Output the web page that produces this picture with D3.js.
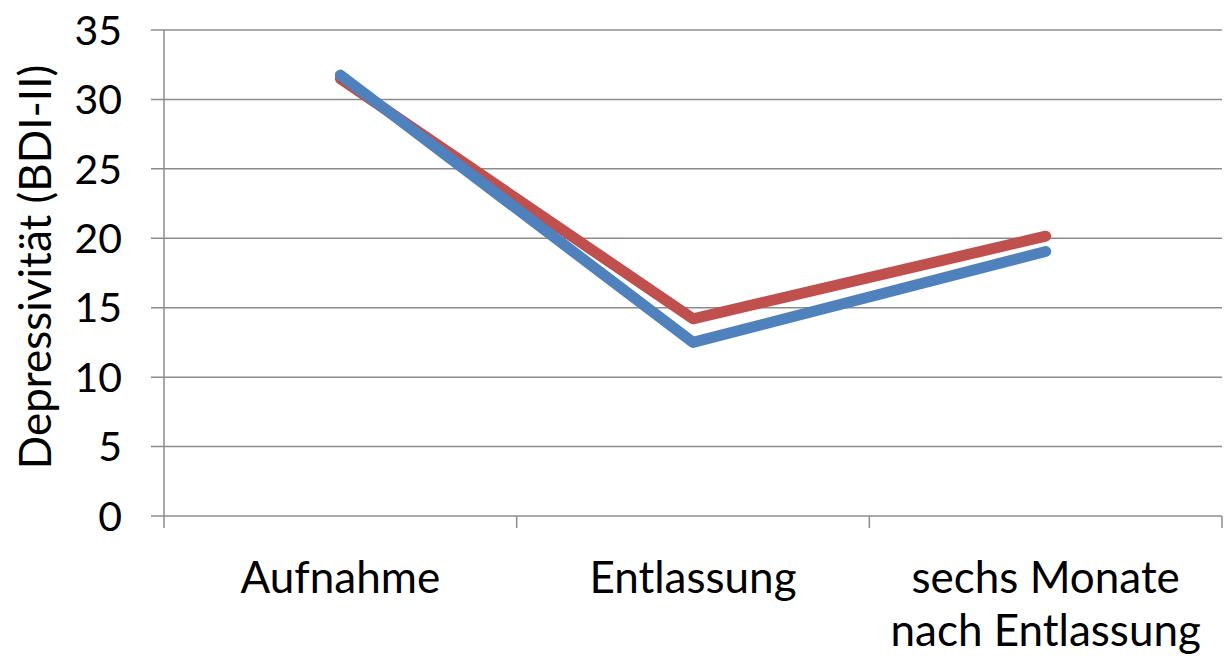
<!DOCTYPE html>
<html>
<head>
<meta charset="utf-8">
<script src="https://cdn.jsdelivr.net/npm/d3@7"></script>
<style>
  html, body { margin: 0; padding: 0; background: #fff; }
  svg { display: block; }
  text { font-family: Lato, "Open Sans", sans-serif; fill: #000; }
</style>
</head>
<body>
<svg id="chart" width="1226" height="658"></svg>
<script>
// Measurement points
const categories = ["Aufnahme", "Entlassung", "sechs Monate nach Entlassung"];
const categoryLines = [["Aufnahme"], ["Entlassung"], ["sechs Monate", "nach Entlassung"]];
// Mean BDI-II scores per group
const seriesRed = [31.5, 14.2, 20.15];
const seriesBlue = [31.75, 12.5, 19.05];
const yTicks = [0, 5, 10, 15, 20, 25, 30, 35];
const yTitle = "Depressivität (BDI-II)";

const svg = d3.select("#chart");
const margin = { left: 164, right: 4, top: 30, bottom: 142 };
const W = 1226, H = 658;

const x = d3.scaleBand().domain(categories).range([margin.left, W - margin.right]).padding(0);
const y = d3.scaleLinear().domain([0, 35]).range([H - margin.bottom, margin.top]);

const gridColor = "#8c8c8c";

// Horizontal gridlines
svg.append("g").selectAll("line").data(yTicks).join("line")
  .attr("x1", margin.left - 13).attr("x2", W - margin.right)
  .attr("y1", d => y(d)).attr("y2", d => y(d))
  .attr("stroke", gridColor).attr("stroke-width", 1.5);

// Y axis line
svg.append("line")
  .attr("x1", margin.left).attr("x2", margin.left)
  .attr("y1", y(35)).attr("y2", y(0) + 12)
  .attr("stroke", gridColor).attr("stroke-width", 1.5);

// Category boundary ticks below the x axis
const bounds = categories.map(c => x(c)).concat([x(categories[categories.length - 1]) + x.bandwidth()]);
svg.append("g").selectAll("line").data(bounds.slice(1)).join("line")
  .attr("x1", d => d).attr("x2", d => d)
  .attr("y1", y(0)).attr("y2", y(0) + 12)
  .attr("stroke", gridColor).attr("stroke-width", 1.5);

// Y tick labels
svg.append("g").selectAll("text").data(yTicks).join("text")
  .attr("x", 122).attr("y", d => y(d))
  .attr("dy", "0.36em")
  .attr("text-anchor", "end")
  .style("font-size", "41px")
  .text(d => d);

// Y axis title
svg.append("text")
  .attr("transform", `translate(51, ${(y(0) + y(35)) / 2 - 6}) rotate(-90)`)
  .attr("text-anchor", "middle")
  .style("font-size", "44px")
  .text(yTitle);

// Category labels
const cx = c => x(c) + x.bandwidth() / 2;
const labels = svg.append("g").selectAll("text").data(categories).join("text")
  .attr("x", cx)
  .attr("y", 593)
  .attr("text-anchor", "middle")
  .style("font-size", "44px");
labels.each(function (c, i) {
  d3.select(this).selectAll("tspan").data(categoryLines[i]).join("tspan")
    .attr("x", cx(c))
    .attr("dy", (d, j) => j === 0 ? 0 : 53)
    .text(d => d);
});

// Lines
const line = d3.line().x((d, i) => cx(categories[i])).y(d => y(d));
[[seriesRed, "#C0504D"], [seriesBlue, "#4F81BD"]].forEach(([vals, color]) => {
  svg.append("path")
    .attr("d", line(vals))
    .attr("fill", "none")
    .attr("stroke", color)
    .attr("stroke-width", 11)
    .attr("stroke-linecap", "round")
    .attr("stroke-linejoin", "round");
});
</script>
</body>
</html>
